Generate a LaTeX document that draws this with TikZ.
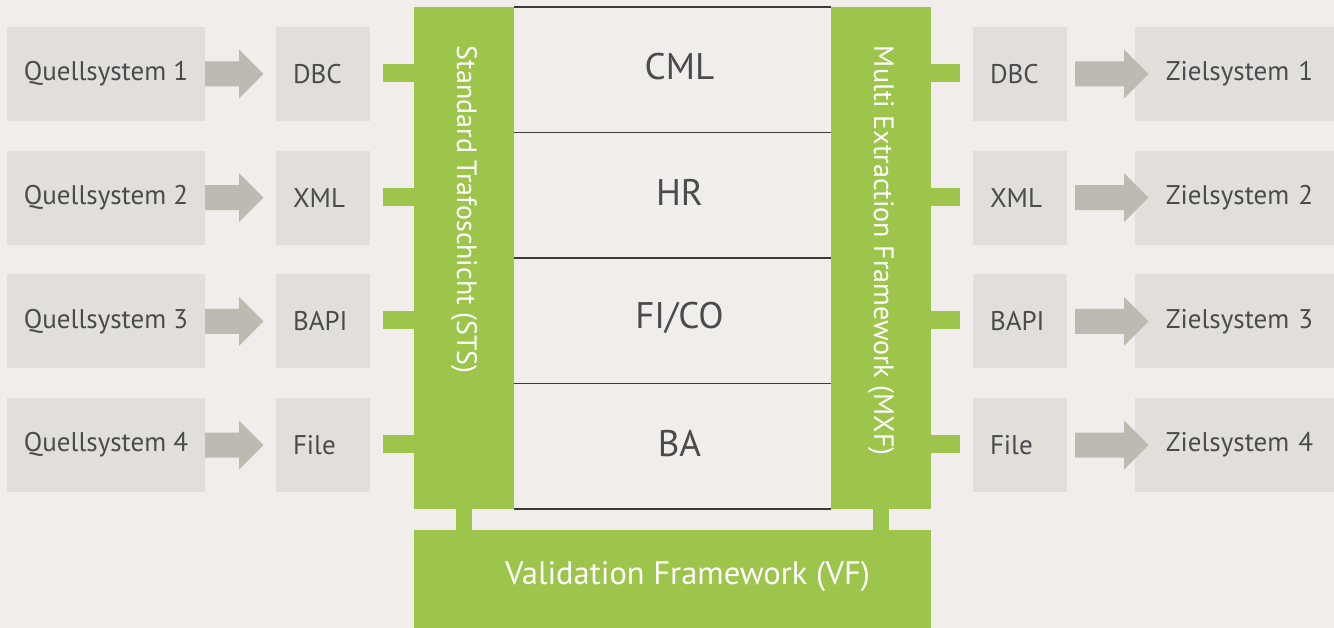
\documentclass[tikz,border=0pt]{standalone}
\usepackage{fontspec}
\setmainfont{PT Sans}
\usetikzlibrary{calc}

\definecolor{paper}{HTML}{F0EDEA}
\definecolor{boxgray}{HTML}{E2DFDA}
\definecolor{arrowgray}{HTML}{BDBAB2}
\definecolor{leaf}{HTML}{9DC54B}
\definecolor{ink}{HTML}{4B4B4D}
\definecolor{rulecol}{HTML}{3A3A3A}

\begin{document}
\begin{tikzpicture}[x=1pt,y=-1pt,
  every node/.style={inner sep=0pt, outer sep=0pt},
  srcbox/.style={fill=boxgray, minimum width=198pt, minimum height=94pt,
    text=ink, font=\fontsize{27}{30}\selectfont},
  tgtbox/.style={fill=boxgray, minimum width=199pt, minimum height=94pt,
    text width=157pt, align=right, text=ink, font=\fontsize{27}{30}\selectfont},
  fmtbox/.style={fill=boxgray, minimum width=94pt, minimum height=94pt,
    text width=60pt, align=left, text=ink, font=\fontsize{27}{30}\selectfont},
  bar/.style={fill=leaf},
  vtext/.style={text=white, font=\fontsize{28}{32}\selectfont, rotate=-90, anchor=west},
  cell/.style={fill=paper, minimum width=317pt, minimum height=125.5pt, anchor=north west},
  celltext/.style={text=ink, font=\fontsize{37}{42}\selectfont},
  rowline/.style={draw=rulecol, line width=1.5pt},
  stub/.style={draw=leaf, line width=18pt},
  post/.style={draw=leaf, line width=16pt},
  fatarrow/.style={fill=arrowgray},
]
% canvas
\fill[paper] (0,0) rectangle (1334,628);
\useasboundingbox (0,0) rectangle (1334,628);

% green frameworks
\node[bar, minimum width=100pt, minimum height=502pt, anchor=north west] (sts) at (414,7) {};
\node[bar, minimum width=100pt, minimum height=502pt, anchor=north west] (mxf) at (831,7) {};
\node[bar, minimum width=517pt, minimum height=98pt, anchor=north west] (vf) at (414,530) {};

\node[vtext] (ststext) at (464,46) {Standard Trafoschicht (STS)};
\node[vtext] (mxftext) at (881,46) {Multi Extraction Framework (MXF)};
\node[text=white, font=\fontsize{32.5}{36}\selectfont] (vftext) at ($(vf.center)+(15,-2)$) {Validation Framework (VF)};

% posts between the frameworks and the validation layer
\draw[post] (sts.south) -- (sts.south |- vf.north);
\draw[post] ($(mxf.south)+(-0.5,0)$) -- ($(mxf.south |- vf.north)+(-0.5,0)$);

% module table
\node[cell] (cml) at (514,7) {};
\node[cell] (hr)  at (514,132.5) {};
\node[cell] (fico) at (514,258) {};
\node[cell] (ba)  at (514,383.5) {};
\foreach \c/\t in {cml/CML, hr/HR, fico/FI\slash CO, ba/BA} {
  \node[celltext] (\c-label) at ($(\c.center)+(7,-3)$) {\t};
  \draw[rowline] (\c.north west) -- (\c.north east);
  \draw[rowline] (\c.south west) -- (\c.south east);
}

% source and target rows
\foreach \i/\f in {1/DBC, 2/XML, 3/BAPI, 4/File} {
  \pgfmathsetmacro\top{27+123.67*(\i-1)}
  \node[srcbox, anchor=north west] (q\i) at (7,\top) {Quellsystem \i};
  \node[fmtbox, anchor=north west] (fl\i) at (276,\top) {\f};
  \node[fmtbox, anchor=north west] (fr\i) at (973,\top) {\f};
  \node[tgtbox, anchor=north west] (z\i) at (1135,\top) {Zielsystem \i};
  % fat arrows
  \fill[fatarrow] (q\i.east) ++(0,-12.5) -- ++(34,0) -- ++(0,-12) -- ++(24.5,24.5)
    -- ++(-24.5,24.5) -- ++(0,-12) -- ++(-34,0) -- cycle;
  \fill[fatarrow] (fr\i.east) ++(8,-12.5) -- ++(49,0) -- ++(0,-12) -- ++(24.5,24.5)
    -- ++(-24.5,24.5) -- ++(0,-12) -- ++(-49,0) -- cycle;
  % connection stubs on the frameworks
  \draw[stub] ($(sts.west |- fl\i)+(0,-1)$) -- ++(-31,0);
  \draw[stub] ($(mxf.east |- fr\i)+(0,-1)$) -- ++(29,0);
}
\end{tikzpicture}
\end{document}
